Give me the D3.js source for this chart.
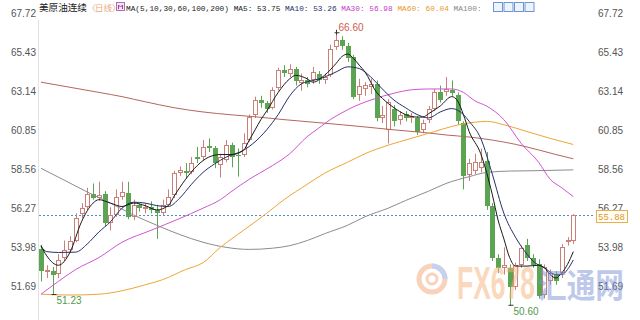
<!DOCTYPE html>
<html><head><meta charset="utf-8">
<script src="https://cdn.jsdelivr.net/npm/d3@7"></script>
<style>body{margin:0;background:#fff}svg{display:block}</style>
</head><body>
<svg id="c" width="640" height="320"></svg>
<script>
// ---- data ----
const opens = [53.9,52.55,52.6,52.45,53.35,53.85,54.4,55.95,56.35,57.15,
56.9,57.15,55.45,55.9,56.95,57.2,55.8,56.5,56.25,56.35,
56.2,56.0,56.5,57.05,58.35,58.5,58.4,59.3,59.3,59.95,
59.85,58.85,59.15,60.0,59.4,59.4,60.3,61.75,62.65,62.45,
62.2,63.35,64.4,64.2,64.45,63.65,63.85,63.8,64.2,63.85,
64.1,65.75,66.2,65.8,65.15,62.95,63.3,63.4,63.6,61.6,
60.9,62.15,61.5,61.85,61.6,61.6,60.9,61.45,62.15,63.15,
63.1,63.25,62.95,61.3,58.25,58.5,58.65,59.05,56.4,53.35,
52.8,52.8,51.7,52.95,54.15,53.4,53.0,51.2,52.0,52.45,
52.5,54.3,54.35];
const closes = [52.6,52.65,52.4,53.25,53.85,54.4,55.7,56.3,57.15,56.9,
57.05,55.45,55.9,56.95,57.25,55.8,56.5,56.3,56.35,56.2,
56.0,56.5,56.95,58.35,58.55,58.35,58.95,59.2,59.9,59.85,
58.95,59.3,60.0,59.3,59.35,60.1,61.65,62.65,62.45,62.15,
63.25,64.4,64.25,64.45,63.75,63.85,63.6,64.3,63.8,64.0,
65.65,66.2,65.8,65.1,62.85,63.5,63.55,63.6,61.6,61.8,
62.55,61.4,61.8,61.6,61.7,60.8,61.3,62.15,63.1,62.65,
63.3,63.05,61.4,58.2,58.95,59.0,59.03,56.4,53.35,52.8,
52.95,51.7,52.95,53.95,53.4,52.95,51.15,52.85,52.5,52.05,
54.0,54.45,55.88];
const highs = [54.15,52.95,52.85,53.6,54.4,54.65,56.0,56.6,57.5,57.75,
57.85,57.3,56.35,57.4,57.85,57.85,56.8,56.6,56.6,56.7,
56.5,56.8,57.4,58.5,58.75,58.95,59.3,59.9,60.3,60.4,
59.95,59.5,60.3,60.15,59.8,60.7,61.8,62.85,62.9,62.6,
63.4,64.55,64.7,64.75,64.6,64.2,64.0,64.6,64.35,64.2,
65.9,66.6,66.4,66.0,65.3,63.9,63.7,63.9,63.8,62.3,
62.7,62.35,62.0,62.0,61.9,61.7,61.5,62.3,63.3,63.5,
64.0,63.8,63.1,61.4,59.2,59.5,59.8,59.6,56.6,53.6,
54.0,53.0,53.1,54.1,54.5,53.6,53.3,53.0,52.7,52.6,
54.2,54.6,55.95];
const lows = [52.0,52.2,51.23,52.2,53.2,53.7,54.3,55.7,56.2,56.8,
56.75,55.25,55.0,55.8,56.8,55.65,55.6,56.1,56.0,56.0,
54.5,55.9,56.4,56.9,58.2,58.05,58.3,58.95,59.1,59.6,
58.65,58.1,59.0,58.7,58.15,59.3,60.2,61.6,62.2,61.9,
62.1,63.2,64.0,64.0,63.5,63.2,63.4,63.6,63.6,63.6,
64.0,65.6,65.6,64.9,62.7,62.6,62.9,63.0,61.4,61.3,
60.1,61.1,61.2,61.4,61.3,60.6,60.7,61.3,62.0,62.5,
62.9,62.9,61.2,57.4,57.9,58.3,58.4,56.2,53.2,52.5,
52.4,50.6,51.5,52.8,53.2,52.8,51.0,51.0,51.8,51.8,
52.2,54.1,54.2];

// moving averages read as [bar index, value]
const ma5 = [[0,54.1],[1,53.5],[3,52.95],[5,53.7],[7,55.5],[9,56.6],[10,56.8],[12,56.6],[14,56.4],[16,56.6],[18,56.45],[20,56.2],[22,56.45],[23,57.0],[25,58.0],[27,58.8],[29,59.3],[31,59.45],[33,59.45],[35,59.7],[36,60.3],[37,60.9],[38,61.5],[39,62.0],[41,63.1],[43,63.9],[44,64.1],[46,63.9],[47,63.7],[49,64.1],[51,64.8],[52,65.2],[53,65.35],[54,65.1],[55,64.7],[56,64.3],[58,63.1],[59,62.75],[61,62.2],[63,61.8],[65,61.65],[66,61.65],[67,61.85],[69,62.3],[71,62.85],[72,62.6],[73,61.8],[74,60.8],[76,59.5],[78,57.1],[79,55.6],[80,54.5],[81,53.4],[82,52.9],[84,52.9],[86,52.95],[87,52.8],[88,52.4],[89,52.2],[90,52.5],[91,53.0],[92,53.75]];
const ma10 = [[0,54.05],[1,53.75],[3,53.7],[6,53.72],[8,54.2],[10,54.9],[12,55.5],[14,56.3],[16,56.65],[18,56.6],[20,56.45],[22,56.4],[24,56.9],[26,57.7],[28,58.4],[30,58.9],[32,59.3],[35,59.7],[37,60.2],[39,60.9],[41,61.8],[43,62.9],[45,63.6],[47,63.8],[49,64.0],[51,64.3],[53,64.6],[55,64.5],[57,64.0],[59,63.3],[61,62.65],[63,62.2],[65,61.8],[67,61.6],[69,61.95],[71,62.15],[73,61.8],[74,61.4],[76,60.4],[78,58.3],[80,56.0],[82,54.6],[84,53.6],[85,53.2],[87,52.8],[89,52.4],[90,52.4],[91,52.7],[92,53.26]];
const ma30 = [[0,51.25],[3,52.0],[6,52.7],[10,53.4],[14,54.3],[19,55.0],[24,55.7],[28,56.3],[31,56.8],[33,57.3],[36,58.0],[38,58.4],[40,58.8],[43,59.5],[46,60.5],[48,61.0],[50,61.5],[52,61.9],[54,62.25],[57,62.65],[61,63.05],[64,63.25],[67,63.3],[71,63.3],[73,63.1],[75,62.6],[77,62.3],[80,61.5],[83,60.1],[86,59.0],[88,58.0],[90,57.5],[92,56.98]];
const ma60 = [[0,51.25],[5,51.2],[10,51.25],[14,51.45],[18,51.8],[21,52.1],[25,52.7],[28,53.1],[31,54.0],[35,55.0],[39,56.0],[42,56.8],[46,57.7],[49,58.35],[53,59.0],[56,59.5],[60,60.0],[64,60.4],[68,60.8],[71,61.1],[75,61.35],[77,61.4],[80,61.2],[84,60.8],[88,60.4],[92,60.04]];
const ma100 = [[0,58.64],[4,57.95],[8,57.25],[12,56.6],[16,55.9],[20,55.3],[24,54.75],[28,54.3],[32,54.0],[36,53.88],[40,53.95],[43,54.1],[46,54.4],[49,54.8],[53,55.3],[56,55.8],[60,56.3],[63,56.75],[67,57.3],[70,57.75],[74,58.15],[77,58.4],[81,58.48],[85,58.5],[92,58.55]];
const ma200 = [[0,63.7],[5,63.4],[10,63.1],[14,62.85],[18,62.55],[23,62.2],[28,61.95],[33,61.78],[37,61.67],[42,61.5],[47,61.35],[52,61.2],[56,61.07],[61,60.9],[66,60.75],[70,60.6],[74,60.48],[78,60.3],[82,60.05],[86,59.72],[89,59.45],[92,59.2]];

const yTicks = [67.72,65.43,63.14,60.85,58.56,56.27,53.98,51.69];
const lastPrice = 55.88;
const highMark = {i:51, v:66.60, label:"66.60"};
const lowMarks = [{i:2, v:51.23, label:"51.23"},{i:81, v:50.60, label:"50.60"}];
const headerParts = [
  {t:"MA(5,10,30,60,100,200) ", c:"#222"},
  {t:"MA5: 53.75 ", c:"#222"},
  {t:"MA10: 53.26 ", c:"#26306a"},
  {t:"MA30: 56.98 ", c:"#c83cc8"},
  {t:"MA60: 60.04 ", c:"#e89a2a"},
  {t:"MA100:", c:"#888"}
];

// ---- drawing ----
const svg = d3.select("#c");
const N = opens.length;
const x = d3.scaleLinear().domain([0, N-1]).range([41, 573.3]);
const y = d3.scaleLinear().domain([51.69, 67.72]).range([286.7, 13.7]);

// left frame line
svg.append("line").attr("x1",38.5).attr("x2",38.5).attr("y1",20).attr("y2",320)
  .attr("stroke","#e2e2e2");

// axes
function styleAxis(g){
  g.select(".domain").remove();
  g.selectAll("text").attr("font-family","Liberation Sans, Arial, sans-serif")
   .attr("font-size",10).attr("fill","#555");
}
svg.append("g").attr("transform","translate(36,0)")
  .call(d3.axisLeft(y).tickValues(yTicks).tickFormat(d3.format(".2f")).tickSize(0).tickPadding(0))
  .call(styleAxis);
svg.append("g").attr("transform","translate(598,0)")
  .call(d3.axisRight(y).tickValues(yTicks).tickFormat(d3.format(".2f")).tickSize(0).tickPadding(0))
  .call(styleAxis);

// last price dotted line
svg.append("line").attr("x1",39).attr("x2",593)
  .attr("y1",Math.round(y(lastPrice))+0.5).attr("y2",Math.round(y(lastPrice))+0.5)
  .attr("stroke","#4a8fd6").attr("stroke-dasharray","2,2");

// candles
const upC = "#c98078", dnC = "#5aa452";
const cg = svg.append("g");
d3.range(N).forEach(i=>{
  const cx = Math.round(x(i));
  const o=opens[i], c=closes[i];
  const yo=y(o), yc=y(c);
  const top=Math.round(Math.min(yo,yc)), bot=Math.round(Math.max(yo,yc));
  const h=Math.max(1,bot-top);
  const up = c>=o;
  const col = up?upC:dnC;
  if(up){
    cg.append("line").attr("x1",cx+0.5).attr("x2",cx+0.5).attr("y1",y(highs[i])).attr("y2",top).attr("stroke",col);
    cg.append("line").attr("x1",cx+0.5).attr("x2",cx+0.5).attr("y1",top+h).attr("y2",y(lows[i])).attr("stroke",col);
    cg.append("rect").attr("x",cx-1.5).attr("y",top+0.5).attr("width",4).attr("height",Math.max(0.5,h-1))
      .attr("fill","#fff").attr("stroke",col);
  } else {
    cg.append("line").attr("x1",cx+0.5).attr("x2",cx+0.5).attr("y1",y(highs[i])).attr("y2",y(lows[i])).attr("stroke",col);
    cg.append("rect").attr("x",cx-2).attr("y",top).attr("width",5).attr("height",h).attr("fill",col);
  }
});

// MA lines
const line = d3.line().x(d=>x(d[0])).y(d=>y(d[1])).curve(d3.curveMonotoneX);
[[ma200,"#b4665e"],[ma100,"#8c8c8c"],[ma60,"#f0a436"],[ma30,"#d055d0"],[ma10,"#26306a"],[ma5,"#1a1a1a"]]
 .forEach(([d,c])=>svg.append("path").attr("d",line(d)).attr("fill","none").attr("stroke",c).attr("stroke-width",1));

// high / low marks
const lab = svg.append("g").attr("font-family","Liberation Sans, Arial, sans-serif").attr("font-size",10);
{
  const cx=Math.round(x(highMark.i))+0.5, yy=y(highMark.v);
  lab.append("line").attr("x1",cx-2).attr("x2",cx+3).attr("y1",yy).attr("y2",yy).attr("stroke","#333");
  lab.append("line").attr("x1",cx).attr("x2",cx).attr("y1",yy-3).attr("y2",yy+2).attr("stroke","#333");
  lab.append("text").attr("x",cx+2).attr("y",yy-2).attr("fill","#cf5a50").text(highMark.label);
}
lowMarks.forEach(m=>{
  const cx=Math.round(x(m.i))+0.5, yy=y(m.v);
  lab.append("line").attr("x1",cx-2).attr("x2",cx+3).attr("y1",yy).attr("y2",yy).attr("stroke","#333");
  lab.append("text").attr("x",cx+3).attr("y",yy+9.5).attr("fill","#4f9a4a").text(m.label);
});

// last price tag
{
  const yy=Math.round(y(lastPrice));
  svg.append("rect").attr("x",596.5).attr("y",yy-4.5).attr("width",31).attr("height",12)
    .attr("fill","#fffdf4").attr("stroke","#e8b04a");
  svg.append("text").attr("x",598).attr("y",yy+5).attr("font-family","Liberation Mono, monospace")
    .attr("font-size",9).attr("fill","#d9962a").text(d3.format(".2f")(lastPrice));
}

// watermark
{
  const wm = svg.append("g").attr("opacity",0.5);
  wm.append("circle").attr("cx",432).attr("cy",279).attr("r",13).attr("fill","none").attr("stroke","#f3a77a").attr("stroke-width",5);
  wm.append("path").attr("d","M432,266 A13,13 0 0 1 445,279").attr("fill","none").attr("stroke","#8aa6dc").attr("stroke-width",5);
  wm.append("circle").attr("cx",432).attr("cy",279).attr("r",5).attr("fill","none").attr("stroke","#f3a77a").attr("stroke-width",3);
  wm.append("text").attr("x",457).attr("y",299).attr("font-family","Liberation Sans, Arial, sans-serif")
    .attr("font-weight","bold").attr("font-size",46).attr("textLength",78).attr("lengthAdjust","spacingAndGlyphs")
    .attr("fill","#f6b27a").text("FX678");
  wm.append("text").attr("x",538).attr("y",298).attr("font-family","Noto Sans CJK SC, sans-serif")
    .attr("font-weight","bold").attr("font-size",34).attr("textLength",86).attr("lengthAdjust","spacingAndGlyphs")
    .attr("fill","#7f93d8").text("汇通网");
}

// header
const hd = svg.append("g");
hd.append("text").attr("x",39).attr("y",11).attr("font-family","Noto Sans CJK SC, sans-serif").attr("font-size",9.6)
  .attr("fill","#222").text("美原油连续");
const period = hd.append("text").attr("y",11).attr("font-family","Noto Sans CJK SC, sans-serif").attr("font-size",8.5)
  .attr("fill","#eba784");
period.append("tspan").attr("x",87.5).text("〈");
period.append("tspan").attr("x",95).text("日线");
period.append("tspan").attr("x",112).text("〉");
hd.append("rect").attr("x",116.5).attr("y",2.5).attr("width",8).attr("height",8).attr("fill","#f3e3f3").attr("stroke","#b070b0");
hd.append("path").attr("d","M118.5,9 V5 L120.5,7 L122.5,5 V9").attr("fill","none").attr("stroke","#a040a0");
const ht = hd.append("text").attr("x",126).attr("y",10.5).attr("font-family","Liberation Mono, monospace").attr("font-size",7.8)
  .attr("xml:space","preserve");
headerParts.forEach(p=>ht.append("tspan").attr("fill",p.c).text(p.t));
[0,1,2,3].forEach(k=>{
  hd.append("rect").attr("x",493.5+k*10.5).attr("y",2.5).attr("width",9).attr("height",9)
    .attr("fill","#eef4ff").attr("stroke","#6f94d4");
});
</script>
</body></html>
